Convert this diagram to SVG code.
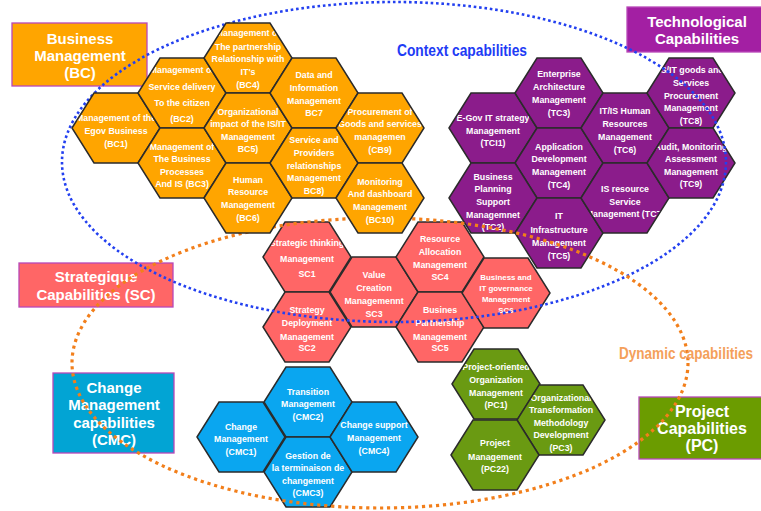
<svg xmlns="http://www.w3.org/2000/svg" width="761" height="511" viewBox="0 0 761 511">
<style>
.hx{stroke:#2b2b2b;stroke-width:1.5}
.bc{fill:#FFA500}
.tc{fill:#8B1C8B}
.sc{fill:#FF6666}
.cmc{fill:#0AA6F0}
.pc{fill:#6A9A12}
.h{font-family:"Liberation Sans",Arial,sans-serif;font-weight:bold;font-size:8.8px;fill:#fff;text-anchor:middle}
.s{font-size:7.9px}
.lb{font-family:"Liberation Sans",Arial,sans-serif;font-weight:bold;font-size:15px;fill:#fff;text-anchor:middle}
.box{stroke:#B848B8;stroke-width:1.3}
.ttl{font-family:"Liberation Sans",Arial,sans-serif;font-weight:bold}
.bl{fill:none;stroke:#2340F0;stroke-width:2.6;stroke-dasharray:2.6 2.8}
.or{fill:none;stroke:#F27F1B;stroke-width:3.2;stroke-dasharray:3.2 3.8}
</style>
<defs>
<polygon id="hex" points="-44,0 -22,-35 22,-35 44,0 22,35 -22,35"/>
<clipPath id="hc"><polygon points="-43,0 -21.5,-34 21.5,-34 43,0 21.5,34 -21.5,34"/></clipPath>
</defs>
<rect width="761" height="511" fill="#fff"/>

<g id="box-bc"><rect class="box" x="12" y="23" width="135" height="63" fill="#FFA500"/>
<text class="lb"><tspan x="80" y="44">Business</tspan><tspan x="80" y="61">Management</tspan><tspan x="80" y="78">(BC)</tspan></text></g>
<g id="box-tc"><rect class="box" x="627" y="7" width="140" height="45" fill="#A31FA3"/>
<text class="lb"><tspan x="697" y="27">Technological</tspan><tspan x="697" y="44">Capabilities</tspan></text></g>
<g id="box-sc"><rect class="box" x="19" y="263" width="154" height="44" fill="#FF6666"/>
<text class="lb"><tspan x="96" y="282">Strategique</tspan><tspan x="96" y="300">Capabilities (SC)</tspan></text></g>
<g id="box-cmc"><rect class="box" x="53" y="373" width="121" height="80" fill="#02A4D4"/>
<text class="lb"><tspan x="114" y="393">Change</tspan><tspan x="114" y="410">Management</tspan><tspan x="114" y="428">capabilities</tspan><tspan x="114" y="445">(CMC)</tspan></text></g>
<g id="box-pc"><rect class="box" x="639" y="397" width="125" height="62" fill="#6B9C00"/>
<text class="lb" style="font-size:16px"><tspan x="702" y="417">Project</tspan><tspan x="702" y="434">Capabilities</tspan><tspan x="702" y="451">(PC)</tspan></text></g>

<!-- Technological hexes -->
<g id="tci1" transform="translate(493,128)"><use href="#hex" class="hx tc"/><text class="h" clip-path="url(#hc)"><tspan x="0" y="-7">E-Gov IT strategy</tspan><tspan x="0" y="6">Management</tspan><tspan x="0" y="18">(TCI1)</tspan></text></g>
<g id="tc3" transform="translate(559,93)"><use href="#hex" class="hx tc"/><text class="h" clip-path="url(#hc)"><tspan x="0" y="-16">Enterprise</tspan><tspan x="0" y="-3">Architecture</tspan><tspan x="0" y="10">Management</tspan><tspan x="0" y="23">(TC3)</tspan></text></g>
<g id="tc4" transform="translate(559,163)"><use href="#hex" class="hx tc"/><text class="h" clip-path="url(#hc)"><tspan x="0" y="-13">Application</tspan><tspan x="0" y="-1">Development</tspan><tspan x="0" y="12">Management</tspan><tspan x="0" y="25">(TC4)</tspan></text></g>
<g id="tc2" transform="translate(493,198)"><use href="#hex" class="hx tc"/><text class="h" clip-path="url(#hc)"><tspan x="0" y="-18">Business</tspan><tspan x="0" y="-6">Planning</tspan><tspan x="0" y="7">Support</tspan><tspan x="0" y="20">Managemnet</tspan><tspan x="0" y="32">(TC2)</tspan></text></g>
<g id="tc5" transform="translate(559,233)"><use href="#hex" class="hx tc"/><text class="h" clip-path="url(#hc)"><tspan x="0" y="-14">IT</tspan><tspan x="0" y="0">Infrastructure</tspan><tspan x="0" y="13">Management</tspan><tspan x="0" y="26">(TC5)</tspan></text></g>
<g id="tc6" transform="translate(625,128)"><use href="#hex" class="hx tc"/><text class="h" clip-path="url(#hc)"><tspan x="0" y="-14">IT/IS Human</tspan><tspan x="0" y="-1">Resources</tspan><tspan x="0" y="12">Management</tspan><tspan x="0" y="25">(TC6)</tspan></text></g>
<g id="tc7" transform="translate(625,198)"><use href="#hex" class="hx tc"/><text class="h" clip-path="url(#hc)"><tspan x="0" y="-6">IS resource</tspan><tspan x="0" y="7">Service</tspan><tspan x="0" y="19">Management (TC7)</tspan></text></g>
<g id="tc8" transform="translate(691,93)"><use href="#hex" class="hx tc"/><text class="h" clip-path="url(#hc)"><tspan x="0" y="-20">IS/IT goods and</tspan><tspan x="0" y="-7">Services</tspan><tspan x="0" y="6">Procurement</tspan><tspan x="0" y="18">Management</tspan><tspan x="0" y="31">(TC8)</tspan></text></g>
<g id="tc9" transform="translate(691,163)"><use href="#hex" class="hx tc"/><text class="h" clip-path="url(#hc)"><tspan x="0" y="-13">Audit, Monitoring</tspan><tspan x="0" y="-1">Assessment</tspan><tspan x="0" y="12">Management</tspan><tspan x="0" y="24">(TC9)</tspan></text></g>

<!-- Strategic hexes -->
<g id="sc1" transform="translate(307,257)"><use href="#hex" class="hx sc"/><text class="h" clip-path="url(#hc)"><tspan x="0" y="-11">Strategic thinking</tspan><tspan x="0" y="5">Management</tspan><tspan x="0" y="20">SC1</tspan></text></g>
<g id="sc2" transform="translate(307,327)"><use href="#hex" class="hx sc"/><text class="h" clip-path="url(#hc)"><tspan x="0" y="-14">Strategy</tspan><tspan x="0" y="-1">Deployment</tspan><tspan x="0" y="13">Management</tspan><tspan x="0" y="24">SC2</tspan></text></g>
<g id="sc3" transform="translate(374,292)"><use href="#hex" class="hx sc"/><text class="h" clip-path="url(#hc)"><tspan x="0" y="-14">Value</tspan><tspan x="0" y="-1">Creation</tspan><tspan x="0" y="12">Managemennt</tspan><tspan x="0" y="25">SC3</tspan></text></g>
<g id="sc4" transform="translate(440,257)"><use href="#hex" class="hx sc"/><text class="h" clip-path="url(#hc)"><tspan x="0" y="-15">Resource</tspan><tspan x="0" y="-2">Allocation</tspan><tspan x="0" y="11">Management</tspan><tspan x="0" y="23">SC4</tspan></text></g>
<g id="sc5" transform="translate(440,327)"><use href="#hex" class="hx sc"/><text class="h" clip-path="url(#hc)"><tspan x="0" y="-14">Busines</tspan><tspan x="0" y="-1">Partnership</tspan><tspan x="0" y="13">Management</tspan><tspan x="0" y="24">SC5</tspan></text></g>
<g id="sc6" transform="translate(506,293)"><use href="#hex" class="hx sc"/><text class="h s" clip-path="url(#hc)"><tspan x="0" y="-13">Business and</tspan><tspan x="0" y="-2">IT governance</tspan><tspan x="0" y="9">Management</tspan><tspan x="0" y="20">SC6</tspan></text></g>

<!-- Change management hexes -->
<g id="cmc1" transform="translate(241,437)"><use href="#hex" class="hx cmc"/><text class="h" clip-path="url(#hc)"><tspan x="0" y="-7">Change</tspan><tspan x="0" y="5">Management</tspan><tspan x="0" y="18">(CMC1)</tspan></text></g>
<g id="cmc2" transform="translate(308,402)"><use href="#hex" class="hx cmc"/><text class="h" clip-path="url(#hc)"><tspan x="0" y="-7">Transition</tspan><tspan x="0" y="5">Management</tspan><tspan x="0" y="18">(CMC2)</tspan></text></g>
<g id="cmc3" transform="translate(308,472)"><use href="#hex" class="hx cmc"/><text class="h" clip-path="url(#hc)"><tspan x="0" y="-13">Gestion de</tspan><tspan x="0" y="-1">la terminaison de</tspan><tspan x="0" y="12">changement</tspan><tspan x="0" y="24">(CMC3)</tspan></text></g>
<g id="cmc4" transform="translate(374,437)"><use href="#hex" class="hx cmc"/><text class="h" clip-path="url(#hc)"><tspan x="0" y="-9">Change support</tspan><tspan x="0" y="4">Management</tspan><tspan x="0" y="17">(CMC4)</tspan></text></g>

<!-- Project hexes -->
<g id="pc1" transform="translate(496,384)"><use href="#hex" class="hx pc"/><text class="h" clip-path="url(#hc)"><tspan x="0" y="-14">Project-oriented</tspan><tspan x="0" y="-1">Organization</tspan><tspan x="0" y="12">Management</tspan><tspan x="0" y="24">(PC1)</tspan></text></g>
<g id="pc3" transform="translate(561,420)"><use href="#hex" class="hx pc"/><text class="h" clip-path="url(#hc)"><tspan x="0" y="-19">Organizational</tspan><tspan x="0" y="-7">Transformation</tspan><tspan x="0" y="6">Methodology</tspan><tspan x="0" y="18">Development</tspan><tspan x="0" y="31">(PC3)</tspan></text></g>
<g id="pc22" transform="translate(495,455)"><use href="#hex" class="hx pc"/><text class="h" clip-path="url(#hc)"><tspan x="0" y="-9">Project</tspan><tspan x="0" y="5">Management</tspan><tspan x="0" y="17">(PC22)</tspan></text></g>

<g id="connectors">
<ellipse class="bl" cx="394" cy="162" rx="332" ry="160"/>
<ellipse class="or" cx="380" cy="363" rx="308" ry="145"/>
</g>

<!-- Business Management hexes (drawn above the dotted outlines) -->
<g id="bc1" transform="translate(116,128)"><use href="#hex" class="hx bc"/><text class="h" clip-path="url(#hc)"><tspan x="0" y="-7">Management of the</tspan><tspan x="0" y="6">Egov Business</tspan><tspan x="0" y="19">(BC1)</tspan></text></g>
<g id="bc2" transform="translate(182,93)"><use href="#hex" class="hx bc"/><text class="h" clip-path="url(#hc)"><tspan x="0" y="-20">Management of</tspan><tspan x="0" y="-3">Service delivery</tspan><tspan x="0" y="13">To the citizen</tspan><tspan x="0" y="29">(BC2)</tspan></text></g>
<g id="bc3" transform="translate(182,163)"><use href="#hex" class="hx bc"/><text class="h" clip-path="url(#hc)"><tspan x="0" y="-13">Management of</tspan><tspan x="0" y="-1">The Business</tspan><tspan x="0" y="12">Processes</tspan><tspan x="0" y="24">And IS (BC3)</tspan></text></g>
<g id="bc4" transform="translate(248,58)"><use href="#hex" class="hx bc"/><text class="h" clip-path="url(#hc)"><tspan x="0" y="-22">Management of</tspan><tspan x="0" y="-8">The partnership</tspan><tspan x="0" y="4">Relationship with</tspan><tspan x="0" y="17">IT's</tspan><tspan x="0" y="30">(BC4)</tspan></text></g>
<g id="bc5" transform="translate(248,128)"><use href="#hex" class="hx bc"/><text class="h" clip-path="url(#hc)"><tspan x="0" y="-13">Organizational</tspan><tspan x="0" y="-1">impact of the IS/IT</tspan><tspan x="0" y="12">Management</tspan><tspan x="0" y="24">BC5)</tspan></text></g>
<g id="bc6" transform="translate(248,198)"><use href="#hex" class="hx bc"/><text class="h" clip-path="url(#hc)"><tspan x="0" y="-15">Human</tspan><tspan x="0" y="-3">Resource</tspan><tspan x="0" y="10">Management</tspan><tspan x="0" y="23">(BC6)</tspan></text></g>
<g id="bc7" transform="translate(314,93)"><use href="#hex" class="hx bc"/><text class="h" clip-path="url(#hc)"><tspan x="0" y="-15">Data and</tspan><tspan x="0" y="-2">Information</tspan><tspan x="0" y="11">Management</tspan><tspan x="0" y="23">BC7</tspan></text></g>
<g id="bc8" transform="translate(314,163)"><use href="#hex" class="hx bc"/><text class="h" clip-path="url(#hc)"><tspan x="0" y="-20">Service and</tspan><tspan x="0" y="-7">Providers</tspan><tspan x="0" y="6">relationships</tspan><tspan x="0" y="18">Management</tspan><tspan x="0" y="31">BC8)</tspan></text></g>
<g id="cb9" transform="translate(380,128)"><use href="#hex" class="hx bc"/><text class="h" clip-path="url(#hc)"><tspan x="0" y="-13">Procurement of</tspan><tspan x="0" y="-1">Goods and services</tspan><tspan x="0" y="12">managemen</tspan><tspan x="0" y="25">(CB9)</tspan></text></g>
<g id="bc10" transform="translate(380,198)"><use href="#hex" class="hx bc"/><text class="h" clip-path="url(#hc)"><tspan x="0" y="-13">Monitoring</tspan><tspan x="0" y="-1">And dashboard</tspan><tspan x="0" y="12">Management</tspan><tspan x="0" y="25">(BC10)</tspan></text></g>

<g id="titles">
<text class="ttl" x="397" y="56" fill="#1E3CF5" font-size="16" textLength="130" lengthAdjust="spacingAndGlyphs">Context capabilities</text>
<text class="ttl" x="619" y="359" fill="#F4A05A" font-size="17" textLength="134" lengthAdjust="spacingAndGlyphs">Dynamic capabilities</text>
</g>
</svg>
